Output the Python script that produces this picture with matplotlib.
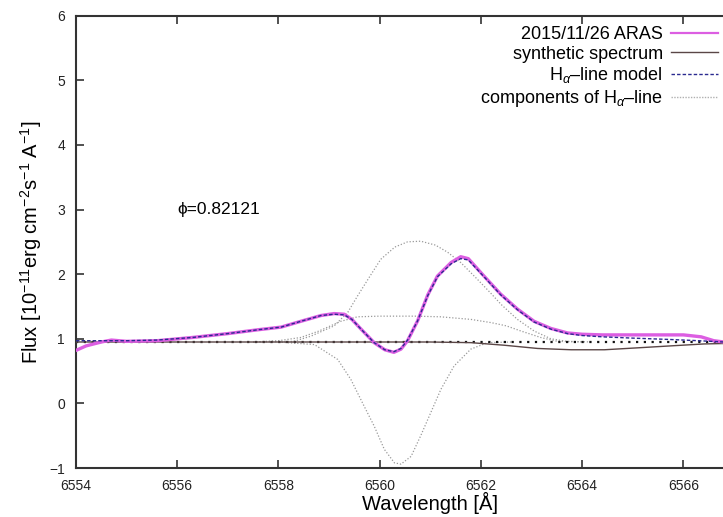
import numpy as np
import matplotlib
matplotlib.use("Agg")
from matplotlib import pyplot as plt

# observed spectrum (ARAS 2015/11/26)
aras_wl = [6554.0, 6554.2, 6554.5, 6554.7, 6555.0, 6555.6, 6556.3, 6557.0, 6557.6,
           6558.05, 6558.44, 6558.84, 6559.1, 6559.3, 6559.45, 6559.63, 6559.89,
           6560.1, 6560.28, 6560.42, 6560.55, 6560.75, 6560.95, 6561.14, 6561.41,
           6561.6, 6561.75, 6562.06, 6562.39, 6562.72, 6563.05, 6563.38, 6563.71,
           6564.0, 6564.4, 6565.0, 6566.0, 6566.35, 6566.6, 6566.8, 6567.0]
aras_flux = [0.82, 0.89, 0.95, 0.98, 0.96, 0.97, 1.02, 1.08, 1.14,
             1.18, 1.27, 1.36, 1.39, 1.38, 1.30, 1.15, 0.94,
             0.83, 0.79, 0.84, 0.97, 1.28, 1.68, 1.97, 2.18,
             2.27, 2.24, 1.97, 1.69, 1.46, 1.27, 1.16, 1.09,
             1.07, 1.06, 1.06, 1.06, 1.03, 0.97, 0.95, 0.94]

# H-alpha line model
model_wl = [6554.0, 6554.5, 6555.0, 6555.6, 6556.3, 6557.0, 6557.6,
            6558.05, 6558.44, 6558.84, 6559.1, 6559.3, 6559.45, 6559.63, 6559.89,
            6560.1, 6560.28, 6560.42, 6560.55, 6560.75, 6560.95, 6561.14, 6561.41,
            6561.6, 6561.75, 6562.06, 6562.39, 6562.72, 6563.05, 6563.38, 6563.71,
            6564.0, 6564.4, 6565.0, 6565.7, 6566.3, 6566.8, 6567.0]
model_flux = [0.97, 0.97, 0.97, 0.98, 1.02, 1.08, 1.14,
              1.18, 1.27, 1.36, 1.38, 1.37, 1.30, 1.15, 0.94,
              0.83, 0.80, 0.85, 0.98, 1.28, 1.67, 1.96, 2.16,
              2.24, 2.22, 1.96, 1.68, 1.45, 1.26, 1.15, 1.08,
              1.05, 1.03, 1.01, 0.99, 0.97, 0.95, 0.95]

# synthetic spectrum
synth_wl = [6554.0, 6556.0, 6558.0, 6560.0, 6561.0, 6561.8, 6562.46, 6563.12,
            6563.78, 6564.44, 6565.1, 6565.75, 6566.41, 6567.0]
synth_flux = [0.95, 0.95, 0.95, 0.95, 0.95, 0.94, 0.90, 0.85,
              0.83, 0.83, 0.86, 0.89, 0.92, 0.93]

# components of H-alpha line
comp1_wl = [6557.5, 6558.3, 6558.64, 6559.1, 6559.37, 6559.56, 6559.8, 6560.02,
            6560.3, 6560.55, 6560.81, 6561.1, 6561.34, 6561.6, 6561.93, 6562.2,
            6562.4, 6562.72, 6563.05, 6563.38, 6563.7, 6564.2]
comp1_flux = [0.95, 0.96, 1.04, 1.20, 1.41, 1.66, 1.96, 2.23,
              2.42, 2.50, 2.51, 2.45, 2.34, 2.18, 1.92, 1.70,
              1.53, 1.30, 1.12, 1.00, 0.96, 0.95]

comp2_wl = [6557.5, 6558.0, 6558.44, 6558.8, 6559.23, 6559.56, 6560.0, 6560.7,
            6561.2, 6561.8, 6562.2, 6562.5, 6562.79, 6563.18, 6563.51, 6564.0]
comp2_flux = [0.95, 0.97, 1.02, 1.12, 1.27, 1.34, 1.35, 1.35,
              1.34, 1.30, 1.25, 1.20, 1.12, 1.02, 0.96, 0.95]

comp3_wl = [6558.0, 6558.71, 6559.17, 6559.43, 6559.69, 6559.89, 6560.09, 6560.29,
            6560.42, 6560.62, 6560.81, 6561.01, 6561.21, 6561.47, 6561.8, 6562.13,
            6562.6]
comp3_flux = [0.95, 0.91, 0.68, 0.37, -0.04, -0.35, -0.71, -0.92,
              -0.94, -0.82, -0.50, -0.14, 0.22, 0.58, 0.84, 0.94,
              0.95]

cont_wl = [6554.0, 6568.0]
cont_flux = [0.95, 0.95]

xticks = np.arange(6554, 6567, 2)
yticks = np.arange(-1, 7, 1)

plt.rcParams["mathtext.fontset"] = "custom"
plt.rcParams["mathtext.rm"] = "Liberation Sans"
plt.rcParams["mathtext.it"] = "Liberation Sans:italic"
plain = ["Liberation Sans", "DejaVu Sans"]

fig = plt.figure(figsize=(7.23, 5.17), dpi=100)
ax = fig.add_axes([76 / 723, 49 / 517, 14 * 50.62 / 723, 452.3 / 517])

ax.plot(cont_wl, cont_flux, color="#111111", lw=1.6, ls=(0, (1, 2.5)), zorder=2)
ax.plot(comp1_wl, comp1_flux, color="#9a9a9a", lw=0.9, ls=(0, (1, 1.5)), zorder=1)
ax.plot(comp2_wl, comp2_flux, color="#9a9a9a", lw=0.9, ls=(0, (1, 1.5)), zorder=1)
ax.plot(comp3_wl, comp3_flux, color="#9a9a9a", lw=0.9, ls=(0, (1, 1.5)), zorder=1)
ax.plot(synth_wl, synth_flux, color="#5a4646", lw=1.0, zorder=3)
ax.plot(aras_wl, aras_flux, color="#dc5ee2", lw=2.4, zorder=4)
ax.plot(model_wl, model_flux, color="#2a2a90", lw=1.0, ls=(0, (2.5, 1.5)), zorder=5)

ax.set_xlim(6554, 6568)
ax.set_ylim(-1, 6)
ax.set_xticks(xticks)
ax.set_yticks(yticks)
ax.tick_params(direction="in", length=6, width=1.2, top=True, right=False,
               color="#333333", labelcolor="#222222")
ax.tick_params(axis="x", pad=8)
ax.tick_params(axis="y", pad=8)
for lab in ax.get_xticklabels() + ax.get_yticklabels():
    lab.set_family(plain)
    lab.set_fontsize(10)
for side in ["left", "bottom", "top"]:
    ax.spines[side].set_linewidth(1.5)
    ax.spines[side].set_color("#333333")
ax.spines["right"].set_visible(False)

ax.set_xlabel("Wavelength [Å]", family=plain, fontsize=14.5, labelpad=-1)
ax.set_ylabel("Flux [10$^{-11}$erg cm$^{-2}$s$^{-1}$ A$^{-1}$]", family=plain,
              fontsize=14.5, labelpad=4)

ax.text(6556.0, 3.0, "ϕ=0.82121", family=plain, fontsize=12.5, va="center")

handles = [
    plt.Line2D([], [], color="#dc5ee2", lw=1.6),
    plt.Line2D([], [], color="#5a4646", lw=1.0),
    plt.Line2D([], [], color="#2a2a90", lw=1.0, ls=(0, (2.5, 1.5))),
    plt.Line2D([], [], color="#b0b0b0", lw=1.0, ls=(0, (1, 1))),
]
labels = ["2015/11/26 ARAS", "synthetic spectrum",
          "H$_\\alpha$–line model", "components of H$_\\alpha$–line"]
ax.legend(handles, labels, loc="upper right", bbox_to_anchor=(718 / 723, 491 / 517),
          bbox_transform=fig.transFigure, frameon=False, markerfirst=False,
          prop={"family": plain, "size": 13}, handlelength=2.6, handletextpad=0.45,
          labelspacing=0.15, borderpad=0, borderaxespad=0)

fig.savefig("out.png", dpi=100)
